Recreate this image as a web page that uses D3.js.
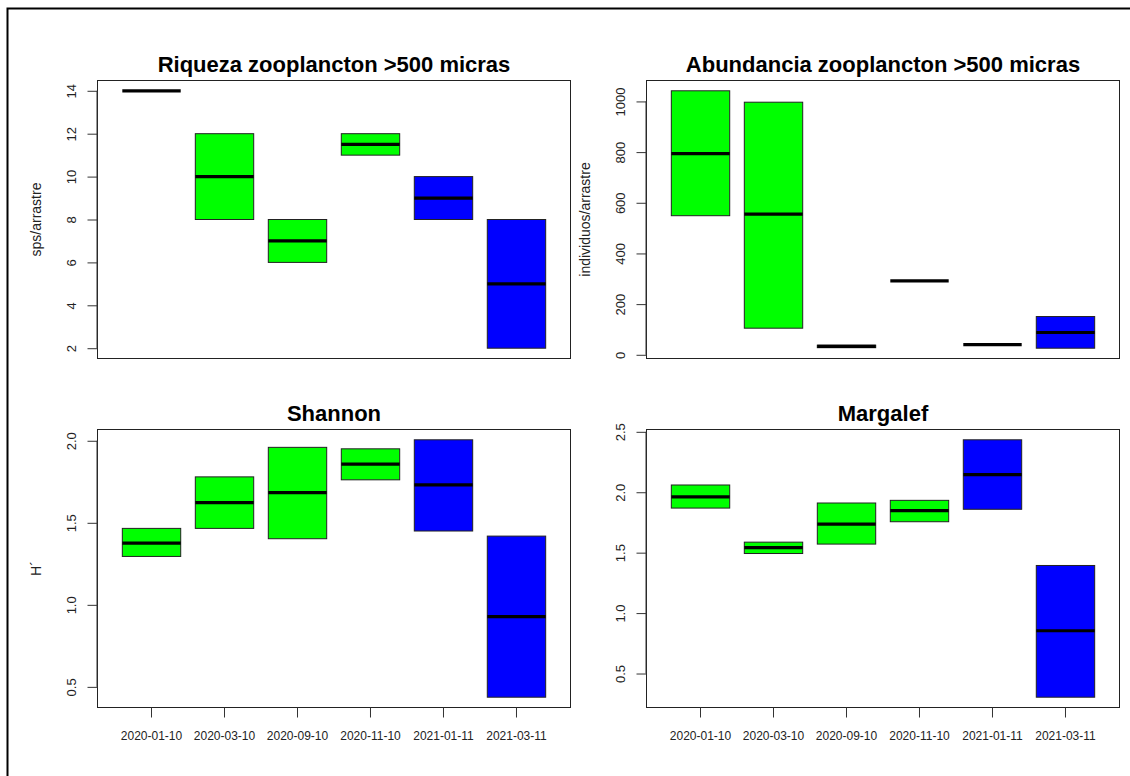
<!DOCTYPE html>
<html>
<head>
<meta charset="utf-8">
<script src="https://cdn.jsdelivr.net/npm/d3@7"></script>
<style>
  body { margin: 0; background: #fff; }
  text { font-family: "Liberation Sans", Arial, sans-serif; }
</style>
</head>
<body>
<svg id="chart" width="1130" height="776"></svg>
<script>
// Sampling campaigns (x categories)
const samplingDates = ["2020-01-10", "2020-03-10", "2020-09-10", "2020-11-10", "2021-01-11", "2021-03-11"];

// Species richness (sps/arrastre): box lower edge, median, upper edge
const riquezaLower  = [14, 8, 6, 11, 8, 2];
const riquezaMedian = [14, 10, 7, 11.5, 9, 5];
const riquezaUpper  = [14, 12, 8, 12, 10, 8];
const riquezaTicks  = [2, 4, 6, 8, 10, 12, 14];

// Abundance (individuos/arrastre)
const abundanciaLower  = [549, 105, 28, 292, 40, 26];
const abundanciaMedian = [794, 555, 33, 292, 40, 88];
const abundanciaUpper  = [1042, 997, 38, 292, 40, 151];
const abundanciaTicks  = [0, 200, 400, 600, 800, 1000];

// Shannon diversity (H´)
const shannonLower  = [1.295, 1.466, 1.403, 1.762, 1.450, 0.437];
const shannonMedian = [1.376, 1.623, 1.684, 1.858, 1.731, 0.928];
const shannonUpper  = [1.466, 1.780, 1.960, 1.951, 2.006, 1.419];
const shannonTicks  = [0.5, 1.0, 1.5, 2.0];

// Margalef richness index
const margalefLower  = [1.869, 1.493, 1.571, 1.756, 1.859, 0.304];
const margalefMedian = [1.961, 1.541, 1.737, 1.848, 2.146, 0.854];
const margalefUpper  = [2.060, 1.587, 1.911, 1.933, 2.434, 1.394];
const margalefTicks  = [0.5, 1.0, 1.5, 2.0, 2.5];

// Fill by sampling year
const yearFill = { "2020": "#00FF00", "2021": "#0000FF" };

const svg = d3.select("#chart");
svg.append("rect").attr("width", 1130).attr("height", 776).attr("fill", "#fff");

// Device frame (runs past the right and bottom edges)
svg.append("rect")
  .attr("x", 7.5).attr("y", 8.5)
  .attr("width", 1140).attr("height", 790)
  .attr("fill", "none").attr("stroke", "#000").attr("stroke-width", 2);

const plotW = 473, plotH = 278;

const panels = [
  { title: "Riqueza zooplancton >500 micras", ylab: "sps/arrastre",
    lower: riquezaLower, median: riquezaMedian, upper: riquezaUpper,
    ticks: riquezaTicks, fmt: d3.format("d"), left: 97.5, top: 80.5, xAxis: false },
  { title: "Abundancia zooplancton >500 micras", ylab: "individuos/arrastre",
    lower: abundanciaLower, median: abundanciaMedian, upper: abundanciaUpper,
    ticks: abundanciaTicks, fmt: d3.format("d"), left: 646.5, top: 80.5, xAxis: false },
  { title: "Shannon", ylab: "H´",
    lower: shannonLower, median: shannonMedian, upper: shannonUpper,
    ticks: shannonTicks, fmt: d3.format(".1f"), left: 97.5, top: 429.5, xAxis: true },
  { title: "Margalef", ylab: "",
    lower: margalefLower, median: margalefMedian, upper: margalefUpper,
    ticks: margalefTicks, fmt: d3.format(".1f"), left: 646.5, top: 429.5, xAxis: true }
];

panels.forEach(p => {
  const g = svg.append("g").attr("transform", `translate(${p.left},${p.top})`);

  // Category positions: 6 groups with 4% extension on both sides
  const x = d3.scaleBand()
    .domain(samplingDates)
    .range([0, plotW])
    .paddingInner(0)
    .paddingOuter(0.24);

  const lo = d3.min(p.lower), hi = d3.max(p.upper);
  const pad = (hi - lo) * 0.04;
  const y = d3.scaleLinear().domain([lo - pad, hi + pad]).range([plotH, 0]);

  const boxW = x.bandwidth() * 0.8;
  const rows = samplingDates.map((d, i) => ({
    date: d, lower: p.lower[i], median: p.median[i], upper: p.upper[i]
  }));

  // Boxes
  g.selectAll("rect.box").data(rows).join("rect")
    .attr("class", "box")
    .attr("x", d => x(d.date) + (x.bandwidth() - boxW) / 2)
    .attr("width", boxW)
    .attr("y", d => y(d.upper))
    .attr("height", d => y(d.lower) - y(d.upper))
    .attr("fill", d => yearFill[d.date.slice(0, 4)])
    .attr("stroke", "#222")
    .attr("stroke-width", 1);

  // Medians
  g.selectAll("line.med").data(rows).join("line")
    .attr("class", "med")
    .attr("x1", d => x(d.date) + (x.bandwidth() - boxW) / 2)
    .attr("x2", d => x(d.date) + (x.bandwidth() + boxW) / 2)
    .attr("y1", d => y(d.median))
    .attr("y2", d => y(d.median))
    .attr("stroke", "#000")
    .attr("stroke-width", 3.2);

  // Plot frame
  g.append("rect")
    .attr("width", plotW).attr("height", plotH)
    .attr("fill", "none").attr("stroke", "#222").attr("stroke-width", 1);

  // Y axis with labels parallel to the axis
  const yAxis = g.append("g")
    .call(d3.axisLeft(y).tickValues(p.ticks).tickFormat(p.fmt).tickSize(10).tickSizeOuter(0));
  yAxis.select(".domain")
    .attr("d", `M-0.5,${y(p.ticks[0])}V${y(p.ticks[p.ticks.length - 1])}`)
    .attr("stroke", "#333");
  yAxis.selectAll(".tick line").attr("stroke", "#333");
  yAxis.selectAll(".tick text")
    .attr("x", null).attr("dy", null)
    .attr("transform", "translate(-22,0) rotate(-90)")
    .attr("text-anchor", "middle")
    .attr("font-size", 13)
    .attr("font-family", "Liberation Sans, Arial, sans-serif")
    .attr("fill", "#222");

  // X axis (bottom row only)
  if (p.xAxis) {
    const xAxis = g.append("g")
      .attr("transform", `translate(0,${plotH})`)
      .call(d3.axisBottom(x).tickSize(10).tickSizeOuter(0));
    xAxis.select(".domain").remove();
    xAxis.selectAll(".tick line").attr("stroke", "#333");
    xAxis.selectAll(".tick text")
      .attr("y", 32).attr("dy", null)
      .attr("font-size", 12)
      .attr("font-family", "Liberation Sans, Arial, sans-serif")
      .attr("fill", "#222");
  }

  // Title
  g.append("text")
    .attr("x", plotW / 2).attr("y", -8.5)
    .attr("text-anchor", "middle")
    .attr("font-size", 22).attr("font-weight", "bold")
    .attr("fill", "#000")
    .text(p.title);

  // Y axis title
  if (p.ylab) {
    g.append("text")
      .attr("transform", `translate(-57,${plotH / 2}) rotate(-90)`)
      .attr("text-anchor", "middle")
      .attr("font-size", 14)
      .attr("fill", "#222")
      .text(p.ylab);
  }
});
</script>
</body>
</html>
